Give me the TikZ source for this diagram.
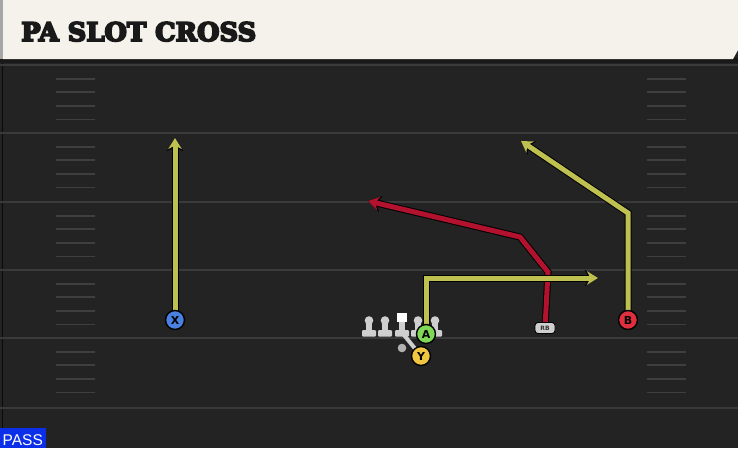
\documentclass[tikz,border=0pt]{standalone}
\usepackage{fontspec}
\setmainfont{DejaVu Sans}
\newfontfamily\titlefont[BoldFont={DejaVu Serif Bold}, BoldFeatures={FakeBold=7}]{DejaVu Serif}
\newfontfamily\passfont{Liberation Sans}
\usetikzlibrary{arrows.meta}
\definecolor{fieldbg}{HTML}{232323}
\definecolor{bannerbg}{HTML}{F5F2EB}
\definecolor{yardline}{HTML}{3A3A3A}
\definecolor{hashc}{HTML}{3F3F3F}
\definecolor{routey}{HTML}{BEC050}
\definecolor{router}{HTML}{B3122E}
\definecolor{xblue}{HTML}{4A80E0}
\definecolor{agreen}{HTML}{7FD957}
\definecolor{yyellow}{HTML}{F0C640}
\definecolor{bred}{HTML}{E0303F}
\definecolor{olgrey}{HTML}{CFCFCF}
\definecolor{passblue}{HTML}{0B2FE8}
\tikzset{
  routeunder/.style={line width=7pt, draw=black, line join=miter, -{Stealth[length=13pt,width=16pt,inset=4pt]}},
  routeline/.style={line width=5pt, line join=miter},
  ytip/.style={-{Stealth[length=11pt,width=13.5pt,inset=3.5pt,fill=routey]}},
  rtip/.style={-{Stealth[length=11pt,width=13.5pt,inset=3.5pt,fill=router]}},
  player/.style={circle, draw=black, line width=1.4pt, minimum size=19pt, inner sep=0pt, font=\bfseries\fontsize{11}{11}\selectfont, text=black},
  hashmark/.style={draw=hashc, line width=1.8pt},
  yline/.style={draw=yardline, line width=2.2pt},
  olbase/.style={fill=olgrey, rounded corners=1pt},
}
\begin{document}
\begin{tikzpicture}[x=1pt,y=-1pt]
\useasboundingbox (0,0) rectangle (738,448);
\fill[fieldbg] (0,0) rectangle (738,448);
\draw[draw=black!70!fieldbg, line width=1pt] (2,60) -- (2,448);
% yard lines
\foreach \yy in {65,133,202,270,338,408} \draw[yline] (0,\yy) -- (738,\yy);
% hash marks
\foreach \ya in {65,133,202,270,338} {
  \foreach \k in {1,2,3,4} {
    \draw[hashmark] (56,\ya+\k*13.6) -- (95,\ya+\k*13.6);
    \draw[hashmark] (647,\ya+\k*13.6) -- (686,\ya+\k*13.6);
  }
}
% banner
\fill[black!90] (0,58) rectangle (738,63);
\fill[bannerbg] (3,0) -- (738,0) -- (738,50) -- (733,59) -- (3,59) -- cycle;
\fill[gray!70] (0,0) rectangle (3,59);
\node[anchor=base west, inner sep=0pt, text=black!90] (title) at (21,41)
  {\resizebox{235pt}{19pt}{\titlefont\bfseries PA SLOT CROSS}};
% player positions
\coordinate (pX) at (175,320);
\coordinate (pA) at (426,334);
\coordinate (pY) at (421,356);
\coordinate (pB) at (628,320);
\coordinate (pRB) at (545,328);
% route waypoints
\coordinate (xend) at (175,138);
\coordinate (aturn) at (426,278);
\coordinate (aend) at (598,278);
\coordinate (bturn) at (628,213);
\coordinate (bend) at (521,141);
\coordinate (r1) at (548,272);
\coordinate (r2) at (520,237);
\coordinate (rend) at (368,201);
% routes (outline then colour)
\draw[routeunder] (pRB) -- (r1) -- (r2) -- (rend);
\draw[routeline, draw=router, rtip] (pRB) -- (r1) -- (r2) -- (rend);
\draw[routeunder] (pX) -- (xend);
\draw[routeline, draw=routey, ytip] (pX) -- (xend);
\draw[routeunder] (pA) -- (aturn) -- (aend);
\draw[routeline, draw=routey, ytip] (pA) -- (aturn) -- (aend);
\draw[routeunder] (pB) -- (bturn) -- (bend);
\draw[routeline, draw=routey, ytip] (pB) -- (bturn) -- (bend);
% offensive line
\foreach \ox in {369,385,418,435} {
  \fill[olbase] (\ox-7,330) rectangle (\ox+7,336.5);
  \fill[olgrey] (\ox-3,322) rectangle (\ox+3,332);
  \fill[olgrey] (\ox,320.5) circle (4.3);
}
% center
\fill[olbase] (395,330) rectangle (409,336.5);
\fill[olgrey] (399,321) rectangle (405,332);
\fill[white] (396.5,313) rectangle (407,322);
% QB motion line and dot
\coordinate (qbline) at (404,335);
\draw[olgrey, line width=4pt] (qbline) -- (pY);
\fill[gray!60] (402,348) circle (4.3);
% players
\node[player, fill=xblue] (X) at (pX) {X};
\node[player, fill=bred] (B) at (pB) {B};
\node[player, fill=agreen] (A) at (pA) {A};
\node[player, fill=yyellow] (Y) at (pY) {Y};
\node[draw=black, line width=0.9pt, fill=olgrey, rounded corners=3pt, minimum width=20pt, minimum height=11pt, inner sep=0pt, font=\bfseries\fontsize{6}{6}\selectfont, text=black!80] (RB) at (pRB) {RB};
% pass label
\fill[passblue] (0,428) rectangle (46,448);
\node[anchor=base west, inner sep=0pt, text=white] (pass) at (2.5,445) {\passfont\fontsize{15.5}{15.5}\selectfont PASS};
\end{tikzpicture}
\end{document}
